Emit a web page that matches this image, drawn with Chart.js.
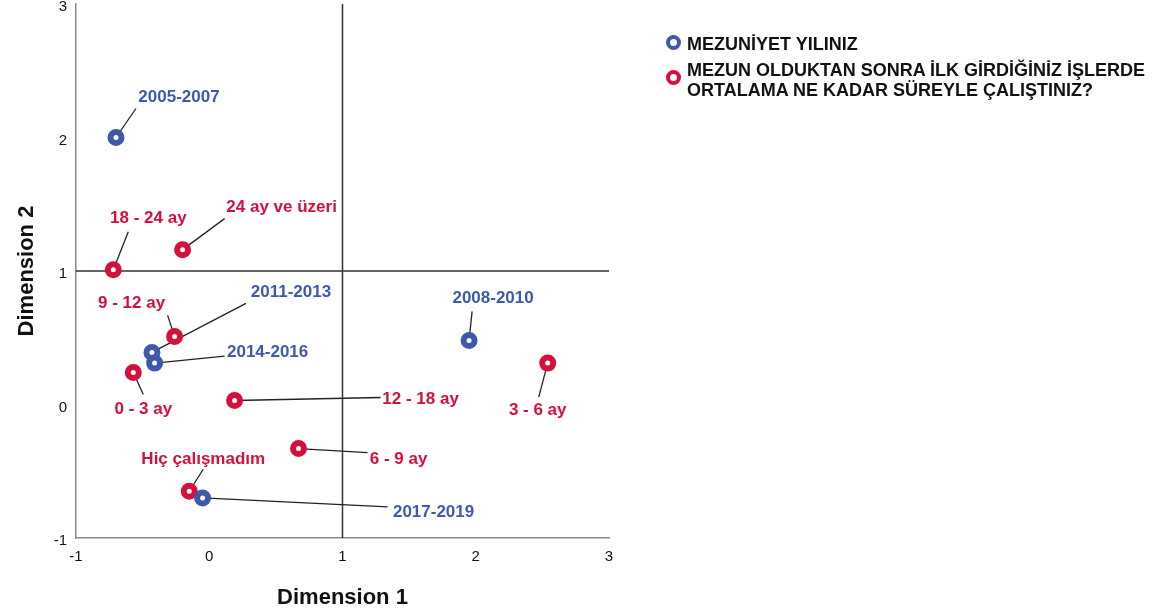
<!DOCTYPE html>
<html>
<head>
<meta charset="utf-8">
<script src="https://cdn.jsdelivr.net/npm/chart.js@4/dist/chart.umd.min.js"></script>
<style>
  body { margin: 0; background: #fff; }
  #wrap { position: relative; width: 1174px; height: 613px; }
  #legend { position: absolute; left: 666px; top: 34px; font: bold 18px "Liberation Sans", Arial, sans-serif; color: #111; }
  .row { position: relative; padding-left: 21px; line-height: 20px; margin-bottom: 6px; }
  .dot { position: absolute; left: 0; width: 7px; height: 7px; border-radius: 50%; border: 4px solid; background: #fff; }
</style>
</head>
<body>
<div id="wrap">
  <canvas id="chart" width="1174" height="613"></canvas>
  <div id="legend">
    <div class="row"><span class="dot" style="border-color:#3e58ac; top:1px"></span>MEZUNİYET YILINIZ</div>
    <div class="row"><span class="dot" style="border-color:#d6103c; top:10px"></span>MEZUN OLDUKTAN SONRA İLK GİRDİĞİNİZ İŞLERDE<br>ORTALAMA NE KADAR SÜREYLE ÇALIŞTINIZ?</div>
  </div>
</div>
<script>
// Row points: graduation year
const yearLabels = ['2005-2007', '2008-2010', '2011-2013', '2014-2016', '2017-2019'];
const yearDim1 = [-0.70, 1.95, -0.43, -0.41, -0.05];
const yearDim2 = [2.00, 0.48, 0.39, 0.31, -0.70];

// Column points: time spent in first job
const durationLabels = ['0 - 3 ay', '3 - 6 ay', '6 - 9 ay', '9 - 12 ay', '12 - 18 ay', '18 - 24 ay', '24 ay ve üzeri', 'Hiç çalışmadım'];
const durationDim1 = [-0.57, 2.54, 0.67, -0.26, 0.19, -0.72, -0.20, -0.15];
const durationDim2 = [0.24, 0.31, -0.33, 0.51, 0.03, 1.01, 1.16, -0.65];

// label placement in pixels relative to the point: [textDx, textDy, leaderDx, leaderDy]
const yearLabelPlace = [[63, -40, 20, -29], [24, -42, 3, -29], [139, -60, 94, -49], [113, -11, 70, -7], [231, 14, 185, 9]];
const durationLabelPlace = [[10, 37, 10, 22], [-10, 47, -9, 34], [100, 11, 69, 4], [-43, -33, -7, -21],
    [186, -1, 146, -3], [35, -51, 15, -38], [99, -42, 42, -31], [14, -32, 14, -22]];

const BLUE = '#3e58ac';
const RED = '#d6103c';
const FONT = '"Liberation Sans", Arial, sans-serif';

function toPoints(xs, ys) {
    return xs.map((x, i) => ({ x: x, y: ys[i] }));
}

// reference lines at 1,1 and leader lines (drawn under the markers)
const underlay = {
    id: 'underlay',
    beforeDatasetsDraw(chart) {
        const { ctx, chartArea, scales } = chart;
        ctx.save();
        ctx.strokeStyle = '#333';
        ctx.lineWidth = 1.5;
        const x1 = scales.x.getPixelForValue(1);
        const y1 = scales.y.getPixelForValue(1);
        ctx.beginPath();
        ctx.moveTo(x1, chartArea.top);
        ctx.lineTo(x1, chartArea.bottom);
        ctx.moveTo(chartArea.left, y1);
        ctx.lineTo(chartArea.right, y1);
        ctx.stroke();

        ctx.strokeStyle = '#222';
        ctx.lineWidth = 1.3;
        chart.data.datasets.forEach((ds, d) => {
            const meta = chart.getDatasetMeta(d);
            meta.data.forEach((pt, i) => {
                const p = ds.place[i];
                ctx.beginPath();
                ctx.moveTo(pt.x, pt.y);
                ctx.lineTo(pt.x + p[2], pt.y + p[3]);
                ctx.stroke();
            });
        });
        ctx.restore();
    }
};

const pointLabels = {
    id: 'pointLabels',
    afterDatasetsDraw(chart) {
        const ctx = chart.ctx;
        ctx.save();
        ctx.font = 'bold 17px ' + FONT;
        ctx.textAlign = 'center';
        ctx.textBaseline = 'middle';
        chart.data.datasets.forEach((ds, d) => {
            const meta = chart.getDatasetMeta(d);
            ctx.fillStyle = ds.borderColor;
            meta.data.forEach((pt, i) => {
                const p = ds.place[i];
                ctx.fillText(ds.names[i], pt.x + p[0], pt.y + p[1]);
            });
        });
        ctx.restore();
    }
};

const canvas = document.getElementById('chart');
new Chart(canvas, {
    type: 'scatter',
    data: {
        datasets: [
            {
                label: 'MEZUNİYET YILINIZ',
                data: toPoints(yearDim1, yearDim2),
                names: yearLabels,
                place: yearLabelPlace,
                borderColor: BLUE,
                backgroundColor: '#fff',
                borderWidth: 6,
                pointRadius: 5.5
            },
            {
                label: 'MEZUN OLDUKTAN SONRA İLK GİRDİĞİNİZ İŞLERDE ORTALAMA NE KADAR SÜREYLE ÇALIŞTINIZ?',
                data: toPoints(durationDim1, durationDim2),
                names: durationLabels,
                place: durationLabelPlace,
                borderColor: RED,
                backgroundColor: '#fff',
                borderWidth: 6,
                pointRadius: 5.5
            }
        ]
    },
    options: {
        responsive: false,
        animation: false,
        events: [],
        layout: { autoPadding: false, padding: { top: 4, right: 565, left: 0, bottom: 0 } },
        plugins: { legend: { display: false }, tooltip: { enabled: false } },
        scales: {
            x: {
                min: -1, max: 3,
                ticks: { stepSize: 1, padding: 10, color: '#111', font: { family: FONT, size: 15 } },
                grid: { display: false, drawTicks: false },
                border: { display: true, color: '#888', width: 1.5 },
                title: { display: true, text: 'Dimension 1', color: '#111', padding: { top: 0, bottom: 2 },
                    font: { family: FONT, size: 22, weight: 'bold' } },
                afterFit(scale) { scale.height = 75; }
            },
            y: {
                min: -1, max: 3,
                ticks: { stepSize: 1, padding: 9, labelOffset: 3, color: '#111', font: { family: FONT, size: 15 } },
                grid: { display: false, drawTicks: false },
                border: { display: true, color: '#888', width: 1.5 },
                title: { display: true, text: 'Dimension 2', color: '#111', padding: { top: 14, bottom: 0 },
                    font: { family: FONT, size: 22, weight: 'bold' } },
                afterFit(scale) {
                    scale.width = 76;
                    // let the top tick label run off the canvas like the original
                    scale.paddingTop = 0;
                    scale.paddingBottom = 0;
                }
            }
        }
    },
    plugins: [underlay, pointLabels]
});
</script>
</body>
</html>
